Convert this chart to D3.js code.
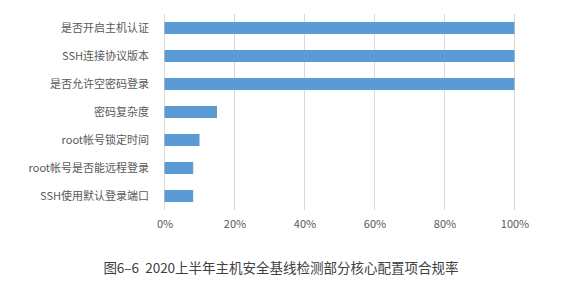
<!DOCTYPE html>
<html>
<head>
<meta charset="utf-8">
<script src="https://cdn.jsdelivr.net/npm/d3@7"></script>
<style>
  body { margin: 0; background: #fff; }
  text { font-family: "Noto Sans CJK SC", "Noto Sans", sans-serif; }
</style>
</head>
<body>
<svg id="chart" width="584" height="283"></svg>
<script>
// categories top to bottom
var categories = [
    "是否开启主机认证",
    "SSH连接协议版本",
    "是否允许空密码登录",
    "密码复杂度",
    "root帐号锁定时间",
    "root帐号是否能远程登录",
    "SSH使用默认登录端口"
];
// compliance rate (%)
var values = [100, 100, 100, 15, 10, 8.2, 8.2];
var tickValues = [0, 20, 40, 60, 80, 100];
var title = "图6–6  2020上半年主机安全基线检测部分核心配置项合规率";

var svg = d3.select("#chart");

var x = d3.scaleLinear().domain([0, 100]).range([164.5, 514.5]);
var y = d3.scaleBand().domain(categories).range([14, 210]).paddingInner(0.57).paddingOuter(0.285);

// gridlines
svg.append("g").selectAll("line")
    .data(tickValues)
    .enter().append("line")
    .attr("x1", function(d) { return x(d); })
    .attr("x2", function(d) { return x(d); })
    .attr("y1", 14)
    .attr("y2", 210)
    .attr("stroke", "#d9d9d9")
    .attr("stroke-width", 1);

// bars
svg.append("g").selectAll("rect")
    .data(values)
    .enter().append("rect")
    .attr("x", x(0))
    .attr("y", function(d, i) { return y(categories[i]); })
    .attr("width", function(d) { return x(d) - x(0); })
    .attr("height", y.bandwidth())
    .attr("fill", "#5b9bd5");

// category labels
var yAxis = d3.axisLeft(y).tickSize(0).tickPadding(0);
var gy = svg.append("g").attr("transform", "translate(149,0)").call(yAxis);
gy.select(".domain").remove();
gy.selectAll("text").attr("font-size", 11).attr("fill", "#595959")
    .style("font-family", "'Noto Sans CJK SC', sans-serif");

// x axis tick labels
var xAxis = d3.axisBottom(x).tickValues(tickValues).tickSize(0).tickPadding(0)
    .tickFormat(function(d) { return d + "%"; });
var gx = svg.append("g").attr("transform", "translate(0,220)").call(xAxis);
gx.select(".domain").remove();
gx.selectAll("text").attr("font-size", 11).attr("fill", "#595959")
    .style("font-family", "'Noto Sans CJK SC', sans-serif");

// caption
svg.append("text")
    .attr("x", 281)
    .attr("y", 273)
    .attr("text-anchor", "middle")
    .attr("font-size", 13.5)
    .attr("fill", "#404040")
    .style("white-space", "pre")
    .text(title);
</script>
</body>
</html>
